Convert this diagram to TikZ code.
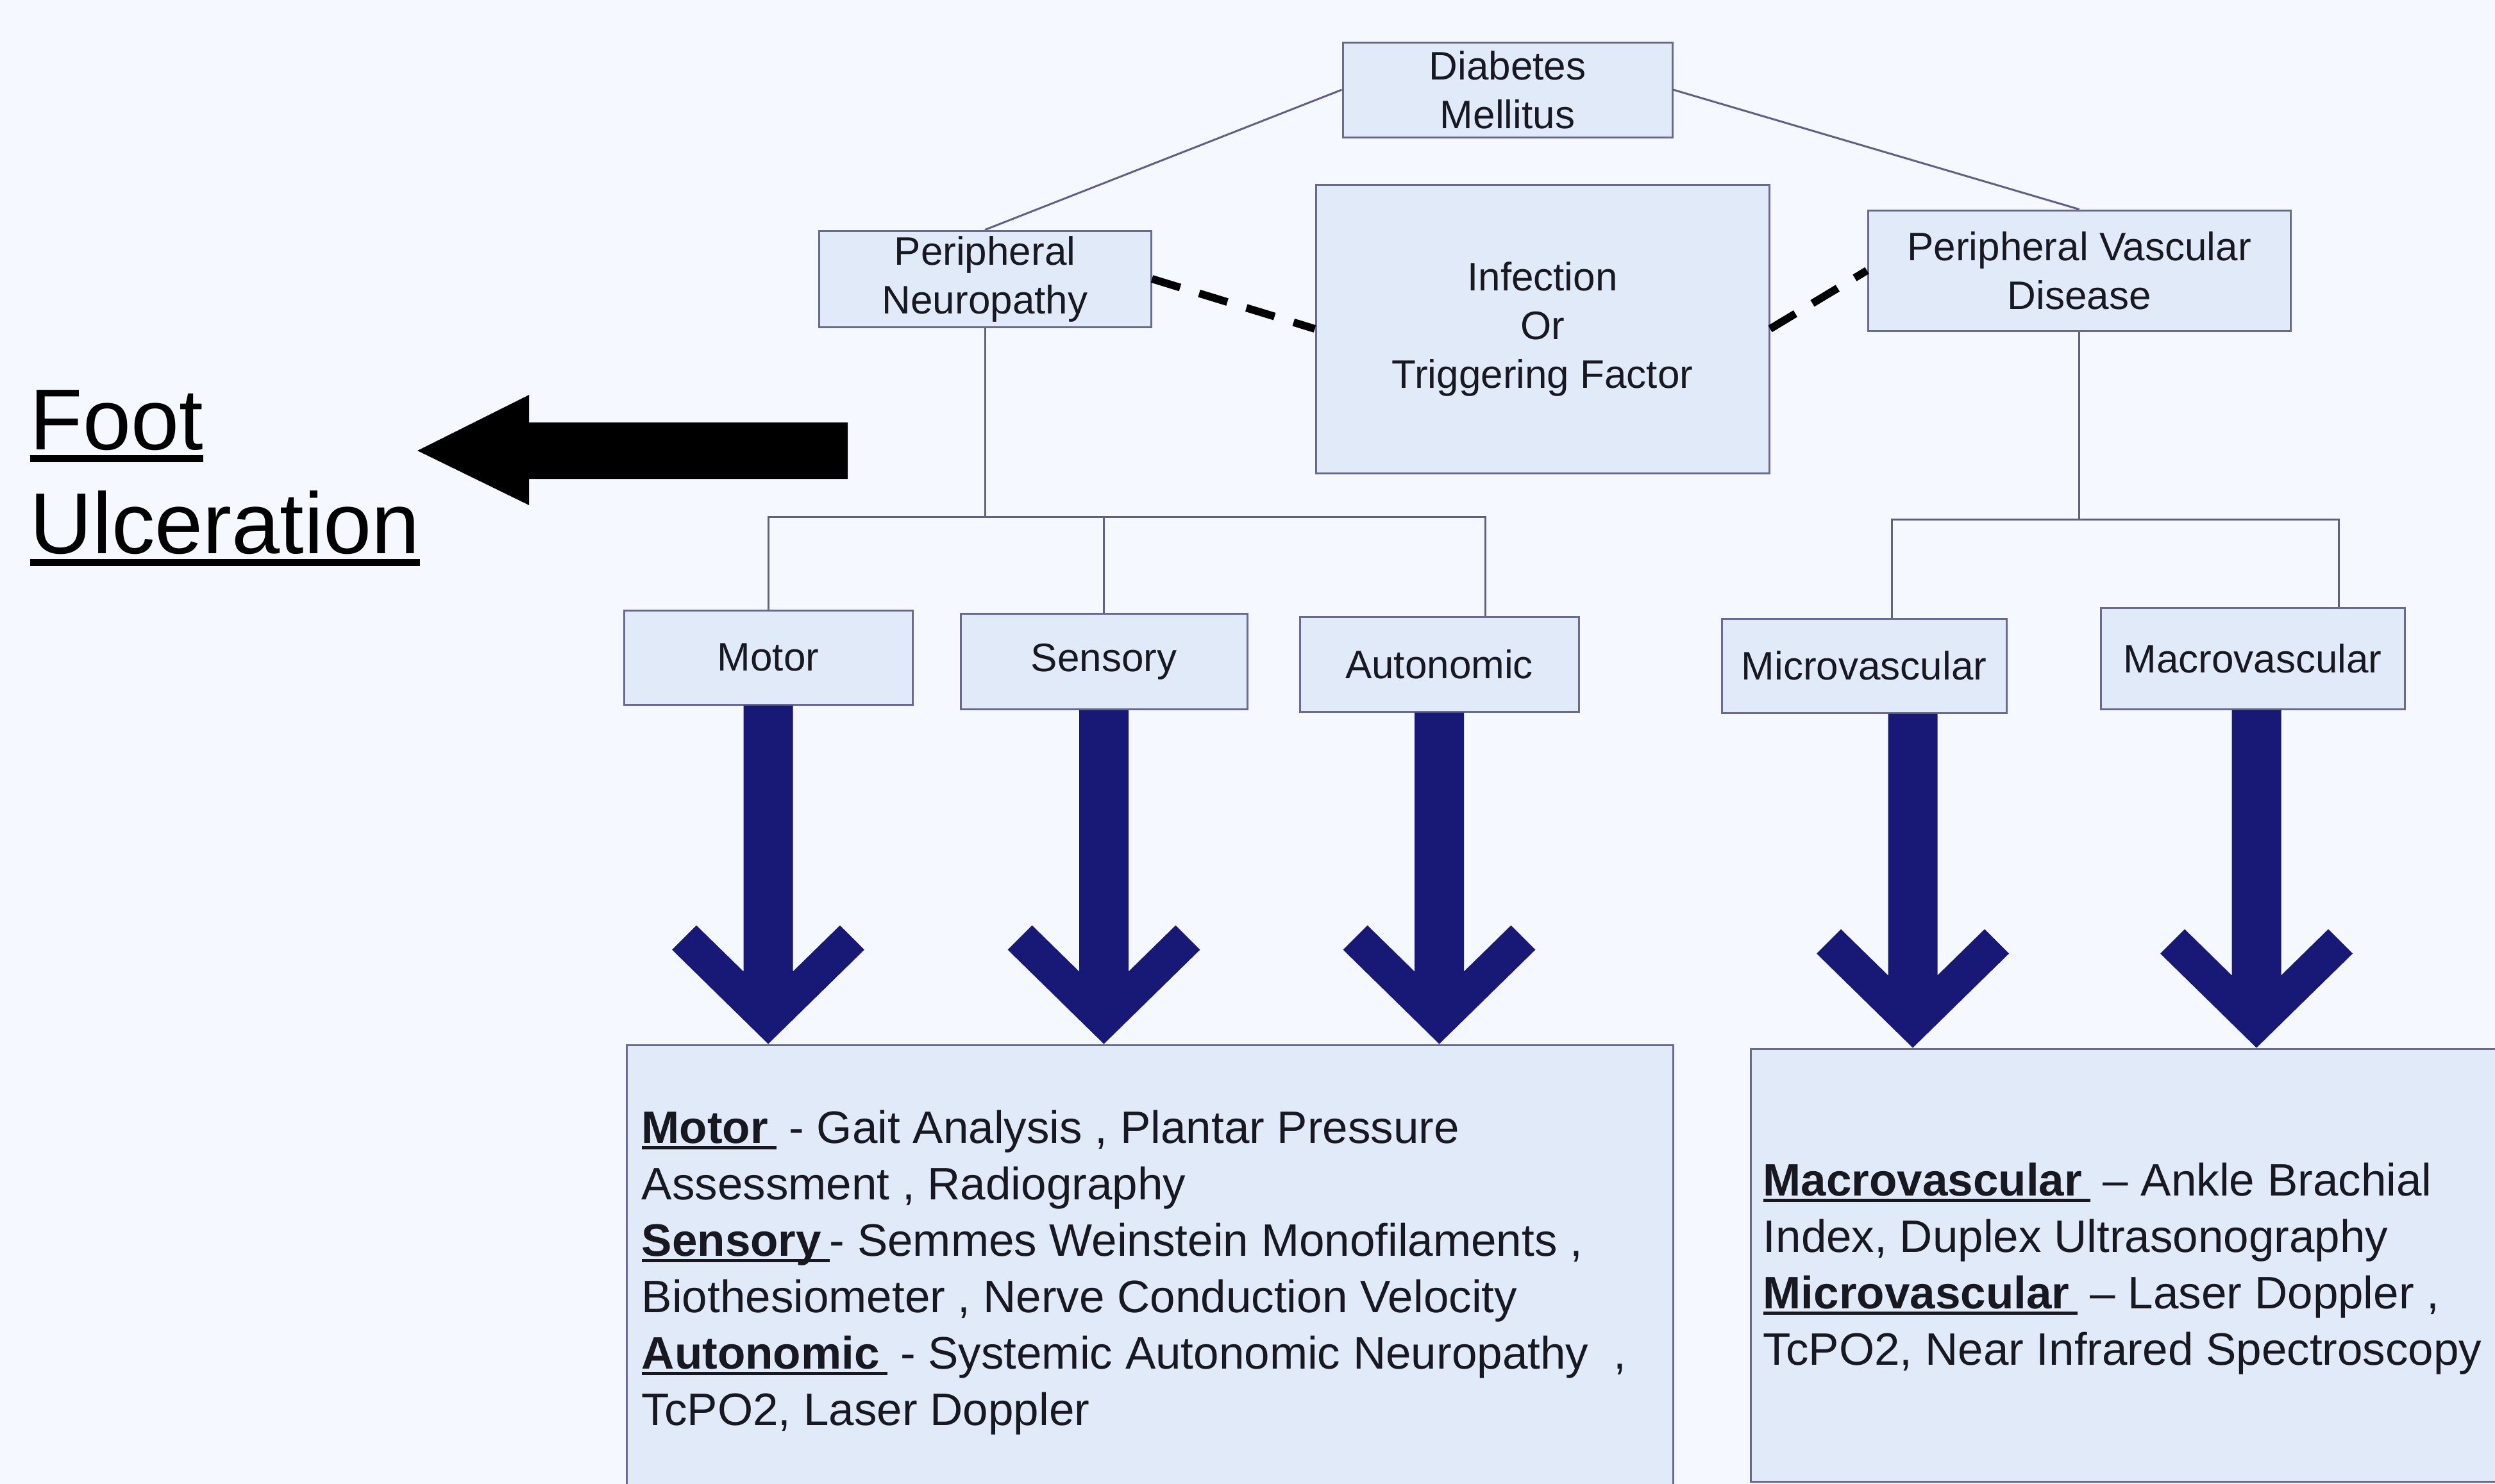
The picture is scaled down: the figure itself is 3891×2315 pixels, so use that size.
\documentclass[tikz,border=0pt]{standalone}
\usepackage{fontspec}
\setmainfont{Liberation Sans}
\usepackage{tikz}
\usetikzlibrary{calc, positioning}
\definecolor{pagebg}{RGB}{245,248,254}
\definecolor{boxfill}{RGB}{225,234,249}
\definecolor{boxline}{RGB}{105,105,145}
\definecolor{linkcol}{RGB}{95,95,135}
\definecolor{navy}{RGB}{24,24,118}
\definecolor{ink}{RGB}{24,24,32}
% underlined word, and the bold underlined heading used in the notes
\newcommand{\uword}[1]{\setbox0=\hbox{#1}\rlap{\vrule width\wd0 height -0.06em depth 0.14em}\box0\relax}
\newcommand{\term}[1]{\uword{\bfseries #1\kern0.18em}}
% broad chevron arrow from a box down to the notes box
\newcommand{\fatarrow}[2]{%
  \fill[navy] let \p1=(#1), \p2=(#2) in
    (\x1-9.625pt,\y1) -- (\x1-9.625pt,\y2+28.25pt) -- (\x1-28pt,\y2+46.25pt)
    -- (\x1-37.5pt,\y2+36.75pt) -- (\x1,\y2) -- (\x1+37.5pt,\y2+36.75pt)
    -- (\x1+28pt,\y2+46.25pt) -- (\x1+9.625pt,\y2+28.25pt) -- (\x1+9.625pt,\y1) -- cycle;}

\begin{document}
\begin{tikzpicture}[x=0.25pt, y=-0.25pt,
  smallbox/.style={draw=boxline, line width=0.75pt, fill=boxfill, text=ink, align=center,
                   inner sep=0pt, font=\fontsize{15.5pt}{19pt}\selectfont},
  notebox/.style={draw=boxline, line width=0.75pt, fill=boxfill, inner sep=0pt},
  notes/.style={text=ink, align=left, inner sep=0pt, anchor=north west,
                font=\fontsize{17.75pt}{22pt}\selectfont},
  ulcer/.style={text=black, align=left, inner sep=0pt, anchor=north west,
                font=\fontsize{33.75pt}{40.5pt}\selectfont},
  link/.style={draw=linkcol, line width=0.75pt},
  dashlink/.style={draw=black, line width=3pt, dash pattern=on 11.5pt off 7.75pt}
]
\useasboundingbox (0,0) rectangle (3891,2315);
\fill[pagebg] (0,0) rectangle (3891,2315);
\clip (0,0) rectangle (3891,2315);

\node[smallbox, minimum width=128.5pt, minimum height=37pt] (dm) at (2351,140) {Diabetes\\Mellitus};
\node[smallbox, minimum width=129.5pt, minimum height=37.5pt] (pn) at (1536,435) {Peripheral\\Neuropathy};
\node[smallbox, minimum width=176.75pt, minimum height=112.5pt] (trigger) at (2405.5,513) {Infection\\Or\\Triggering Factor};
\node[smallbox, minimum width=164.75pt, minimum height=47pt] (pvd) at (3242.5,422) {Peripheral Vascular\\Disease};

\node[smallbox, minimum width=112.5pt, minimum height=36.75pt] (motor) at (1198,1025.5) {Motor};
\node[smallbox, minimum width=111.75pt, minimum height=37.25pt] (sensory) at (1721.5,1032) {Sensory};
\node[smallbox, minimum width=108.75pt, minimum height=37pt] (autonomic) at (2244.5,1036) {Autonomic};
\node[smallbox, minimum width=111pt, minimum height=36.75pt] (micro) at (2907,1038.5) {Microvascular};
\node[smallbox, minimum width=118.5pt, minimum height=39.5pt] (macro) at (3513,1027) {Macrovascular};

\node[notebox, minimum width=408pt, minimum height=177.5pt] (leftbox) at (1793,1985) {};
\node[notebox, minimum width=295pt, minimum height=168.75pt] (rightbox) at (3320,1973.5) {};

\node[notes] (neurotext) at (1000,1731) {\term{Motor} - Gait Analysis , Plantar Pressure\\
Assessment , Radiography\\
\term{Sensory}- Semmes Weinstein Monofilaments ,\\
Biothesiometer , Nerve Conduction Velocity\\
\term{Autonomic} - Systemic Autonomic Neuropathy\ \ ,\\
TcPO2, Laser Doppler};
\node[notes] (vasctext) at (2749,1813) {\term{Macrovascular} -- Ankle Brachial\\
Index, Duplex Ultrasonography\\
\term{Microvascular} -- Laser Doppler ,\\
TcPO2, Near Infrared Spectroscopy};

\node[ulcer] (ulcer) at (46,608) {\uword{Foot}\\\uword{Ulceration}};

% tree lines
\coordinate (nbus) at (1536,806);
\coordinate (vbus) at (3242.5,810);
\draw[link] (dm.west) -- (pn.north);
\draw[link] (dm.east) -- (pvd.north);
\draw[link] (pn.south) -- (nbus);
\draw[link] (motor.north) |- (nbus) -| ([xshift=18pt]autonomic.north);
\draw[link] (sensory.north) -- (sensory.north |- nbus);
\draw[link] (pvd.south) -- (vbus);
\draw[link] ([xshift=10.75pt]micro.north) |- (vbus) -| ([xshift=33.5pt]macro.north);
\draw[dashlink] (pn.east) -- (trigger.west);
\draw[dashlink] (trigger.east) -- (pvd.west);

% big black arrow towards the ulceration label
\fill[black] (1322,659) -- (825,659) -- (825,616) -- (651,703) -- (825,788) -- (825,747) -- (1322,747) -- cycle;

% blue arrows down to the notes
\fatarrow{motor.south}{leftbox.north}
\fatarrow{sensory.south}{leftbox.north}
\fatarrow{autonomic.south}{leftbox.north}
\fatarrow{[xshift=19pt]micro.south}{rightbox.north}
\fatarrow{[xshift=1.5pt]macro.south}{rightbox.north}
\end{tikzpicture}
\end{document}
